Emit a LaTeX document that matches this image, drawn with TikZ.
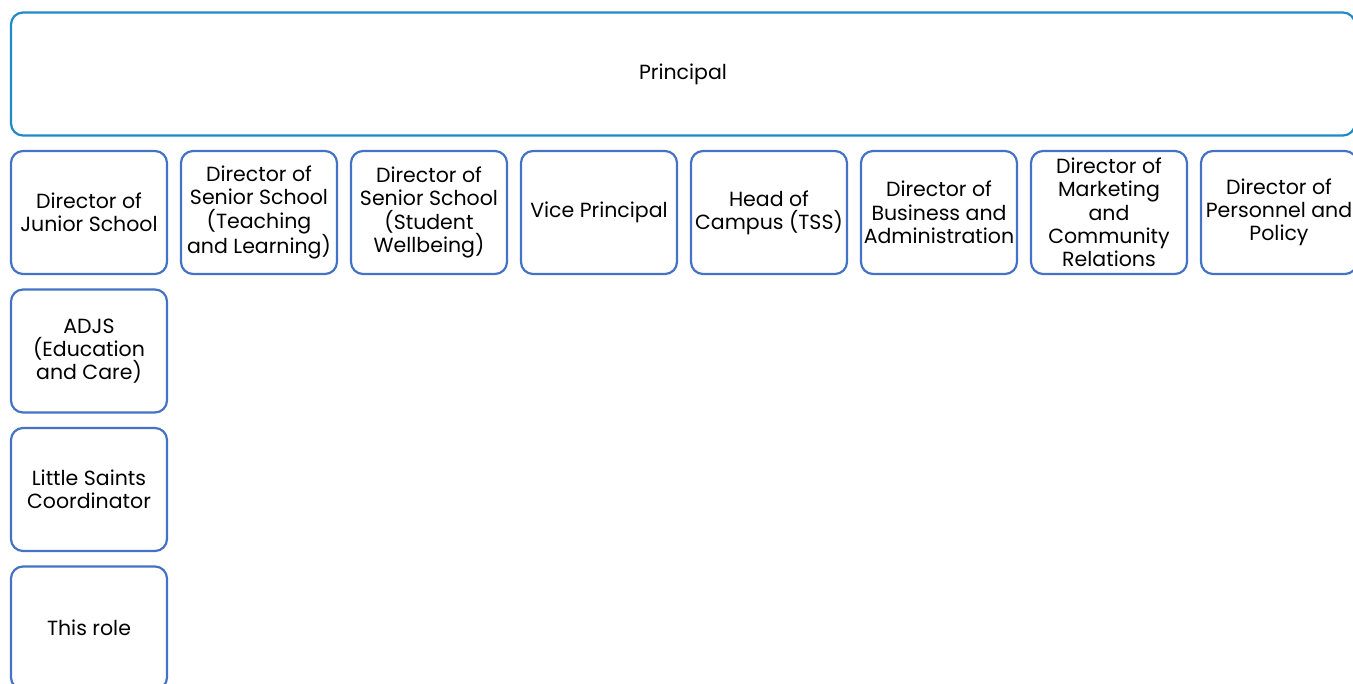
\documentclass[tikz,border=0pt]{standalone}
\usepackage{fontspec}
\setmainfont{Poppins}
\definecolor{topblue}{RGB}{30,138,200}
\definecolor{boxblue}{RGB}{68,114,196}
\begin{document}
\begin{tikzpicture}[x=1pt, y=-1pt,
        principal/.style={rectangle, rounded corners=12pt, draw=topblue, line width=2.2pt, minimum width=1344pt, minimum height=123pt, font=\fontsize{20.5}{23.3}\selectfont},
        role/.style={rectangle, rounded corners=12pt, draw=boxblue, line width=2.2pt, minimum width=156pt, minimum height=123pt, inner sep=0pt, align=center, font=\fontsize{20.5}{23.3}\selectfont},]
        \useasboundingbox (0,0) rectangle (1353,684);
        \clip (0,0) rectangle (1353,684);

        % Top
        \node[principal] (prin) at (683,74) {Principal};

        % Directors
        \node[role] (djs)   at (89,212.5)   {Director of\\Junior School};
        \node[role] (dsstl) at (259,212.5)  {Director of\\Senior School\\(Teaching\\and Learning)};
        \node[role] (dsssw) at (429,212.5)  {Director of\\Senior School\\(Student\\Wellbeing)};
        \node[role] (vp)    at (599,212.5)  {Vice Principal};
        \node[role] (hoc)   at (769,212.5)  {Head of\\Campus (TSS)};
        \node[role] (dba)   at (939,212.5)  {Director of\\Business and\\Administration};
        \node[role] (dmcr)  at (1109,212.5) {Director of\\Marketing\\and\\Community\\Relations};
        \node[role] (dpp)   at (1279,212.5) {Director of\\Personnel and\\Policy};

        % Junior school
        \node[role] (adjs)  at (89,351)   {ADJS\\(Education\\and Care)};
        \node[role] (lsc)   at (89,489.5) {Little Saints\\Coordinator};
        \node[role] (this)  at (89,628)   {This role};
    \end{tikzpicture}
\end{document}
